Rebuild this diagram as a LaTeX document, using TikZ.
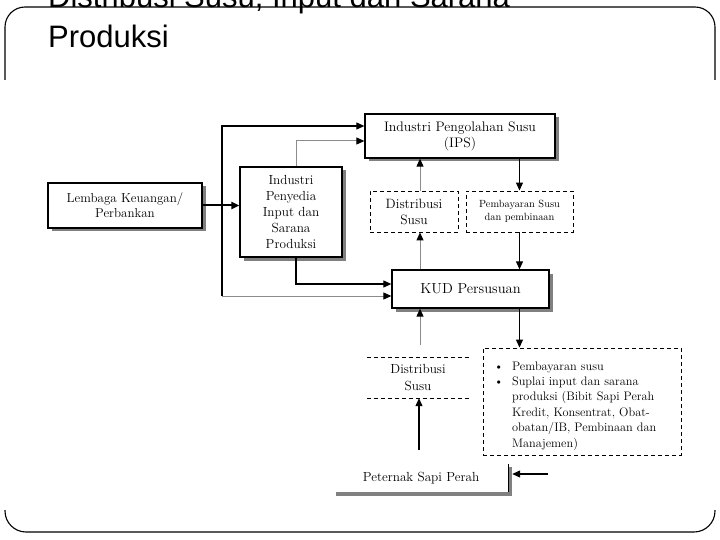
\documentclass[tikz,border=0pt]{standalone}
\usepackage{fontspec}
\newfontfamily\titlefont{Liberation Sans}
\usetikzlibrary{arrows.meta,shadows,calc}
\begin{document}
\begin{tikzpicture}[x=1pt,y=-1pt,
  box/.style={draw=black, fill=white, line width=1.3pt, align=center, inner sep=0pt,
    general shadow={fill=black!50, shadow xshift=3.5pt, shadow yshift=-3.5pt}},
  dbox/.style={draw=black, line width=0.9pt, dash pattern=on 4pt off 3pt, align=center, inner sep=0pt},
  dline/.style={draw=black, line width=0.9pt, dash pattern=on 4pt off 3pt},
  arr/.style={line width=1.1pt, -{Triangle[length=8pt,width=7pt]}},
  garr/.style={draw=black!45, line width=1pt, -{Triangle[length=8pt,width=7pt,color=black]}},
  frame/.style={line width=1.1pt}
]
\useasboundingbox (0,0) rectangle (720,540);
\clip (0,0) rectangle (720,540);

% title
\node[anchor=base west, inner sep=0pt, font=\titlefont\fontsize{31}{31}\selectfont] (t1) at (48,8) {Distribusi Susu, Input dan Sarana};
\node[anchor=base west, inner sep=0pt, font=\titlefont\fontsize{31}{31}\selectfont] (t2) at (48,48) {Produksi};

% slide frame
\draw[frame, rounded corners=20pt] (5,80) -- (5,7) -- (715,7) -- (715,80);
\draw[frame, rounded corners=21pt] (5,510) -- (5,532) -- (715,532) -- (715,510);

% boxes
\node[box, minimum width=154pt, minimum height=45pt, font=\fontsize{13}{15}\selectfont] (lembaga) at (125,205.5) {Lembaga Keuangan/\\Perbankan};
\node[box, minimum width=102pt, minimum height=90pt, font=\fontsize{13.2}{16}\selectfont] (penyedia) at (291,212) {Industri\\Penyedia\\Input dan\\Sarana\\Produksi};
\node[box, minimum width=190pt, minimum height=44pt, font=\fontsize{13.8}{16}\selectfont] (ips) at (460,136) {Industri Pengolahan Susu\\(IPS)};
\node[dbox, minimum width=88pt, minimum height=41pt, font=\fontsize{13.5}{16}\selectfont] (dist1) at (414,211.5) {Distribusi\\Susu};
\node[dbox, minimum width=107pt, minimum height=41pt, font=\fontsize{10.4}{13}\selectfont] (bayar) at (519.5,211.5) {Pembayaran Susu\\dan pembinaan};
\node[box, minimum width=157pt, minimum height=38pt, font=\fontsize{14.5}{16}\selectfont] (kud) at (470.5,289) {KUD Persusuan};
\node[align=center, inner sep=0pt, minimum width=102pt, minimum height=40pt, font=\fontsize{13.2}{17}\selectfont] (dist2) at (418,378) {Distribusi\\Susu};
\draw[dline] (dist2.north west) -- (dist2.north east);
\draw[dline] (dist2.south west) -- (dist2.south east);
\node[dbox, minimum width=198pt, minimum height=107pt] (manaj) at (582,401.5) {};
\node[anchor=north west, inner sep=0pt, font=\fontsize{12.3}{15.4}\selectfont] (mtext) at (494,359.2)
 {\begin{tabular}{@{}l@{\hspace{8.5pt}}l@{}}
  \textbullet & Pembayaran susu\\
  \textbullet & Suplai input dan sarana\\
   & produksi (Bibit Sapi Perah\\
   & Kredit, Konsentrat, Obat-\\
   & obatan/IB, Pembinaan dan\\
   & Manajemen)
  \end{tabular}};
\node[inner sep=0pt, minimum width=174pt, minimum height=28pt, font=\fontsize{13.2}{16}\selectfont] (peternak) at (421,478) {Peternak Sapi Perah};
\fill[black!50] ([xshift=2pt]peternak.south west) rectangle ([xshift=4pt,yshift=-4pt]peternak.south east);
\fill[black!50] ([yshift=-3pt]peternak.north east) rectangle ([xshift=4pt,yshift=-4pt]peternak.south east);
\draw[line width=1.3pt] (peternak.north east) -- (peternak.south east);

% connectors left
\coordinate (jl) at (222,205.5);
\coordinate (kl) at ([yshift=-7pt]kud.west);
\draw[arr, line width=2pt] (lembaga.east) -- (lembaga.east -| penyedia.west);
\draw[arr] (jl) |- ([yshift=10pt]ips.west);
\draw[line width=1.1pt] (jl) -- (jl |- kl);
\draw[garr] (jl |- kl) -- (kl);
\draw[garr] ([xshift=5pt]penyedia.north) |- ([yshift=-5pt]ips.west);
\draw[arr] ([xshift=5pt]penyedia.south) |- ([yshift=5pt]kud.west);

% connectors right
\coordinate (cx) at (420,0);
\draw[garr] (dist1.north -| cx) -- (ips.south -| cx);
\draw[garr] (kud.north -| cx) -- (dist1.south -| cx);
\draw[arr] (ips.south -| bayar.north) -- (bayar.north);
\draw[arr] (bayar.south) -- (kud.north -| bayar.south);
\draw[arr] (kud.south -| bayar.south) -- (manaj.north -| bayar.south);
\coordinate (ku) at (420,345);
\draw[garr] (ku) -- (kud.south -| ku);
\coordinate (pu) at (419,450);
\draw[arr] (pu) -- (dist2.south -| pu);
\coordinate (pin) at (548,474);
\coordinate (pr) at ([xshift=4pt]peternak.east);
\draw[arr] (pin) -- (pin -| pr);
\end{tikzpicture}
\end{document}
